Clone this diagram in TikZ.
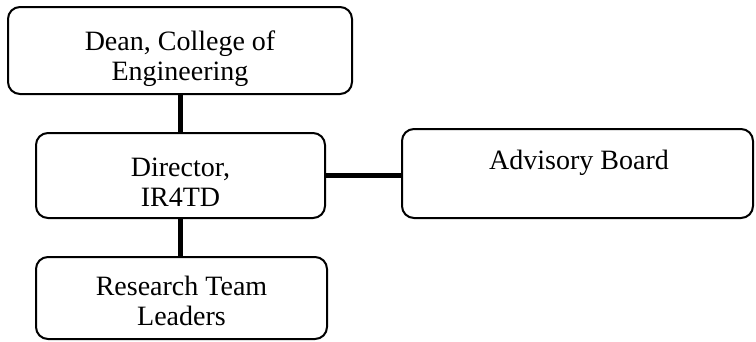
\documentclass[tikz,border=0pt]{standalone}
\usepackage{fontspec}
\setmainfont{Liberation Serif}
\tikzset{
  box/.style={draw, line width=2pt, rounded corners=12pt, inner sep=0pt},
  lbl/.style={font=\fontsize{28}{29.5}\selectfont, align=center, anchor=north, inner sep=0pt},
  conn/.style={line width=5pt}
}
\begin{document}
\begin{tikzpicture}[x=1pt,y=-1pt]
\useasboundingbox (0,0) rectangle (756,341);
\node[box, minimum width=344pt, minimum height=87pt] (dean) at (180,50.5) {};
\node[box, minimum width=289pt, minimum height=85pt] (dir) at (180.5,175.5) {};
\node[box, minimum width=351pt, minimum height=89pt] (adv) at (577.5,173.5) {};
\node[box, minimum width=291pt, minimum height=82pt] (res) at (181.5,298) {};
\node[lbl] (deant) at (180,31) {Dean, College of\\Engineering};
\node[lbl] (dirt) at (180.5,158) {Director,\\IR4TD};
\node[lbl] (advt) at (579,150) {Advisory Board};
\node[lbl] (rest) at (181.5,276) {Research Team\\Leaders};
\draw[conn] (dean.south) -- (dean.south |- dir.north);
\draw[conn] (dir.south) -- (dir.south |- res.north);
\draw[conn] (dir.east) -- (dir.east -| adv.west);
\end{tikzpicture}
\end{document}
